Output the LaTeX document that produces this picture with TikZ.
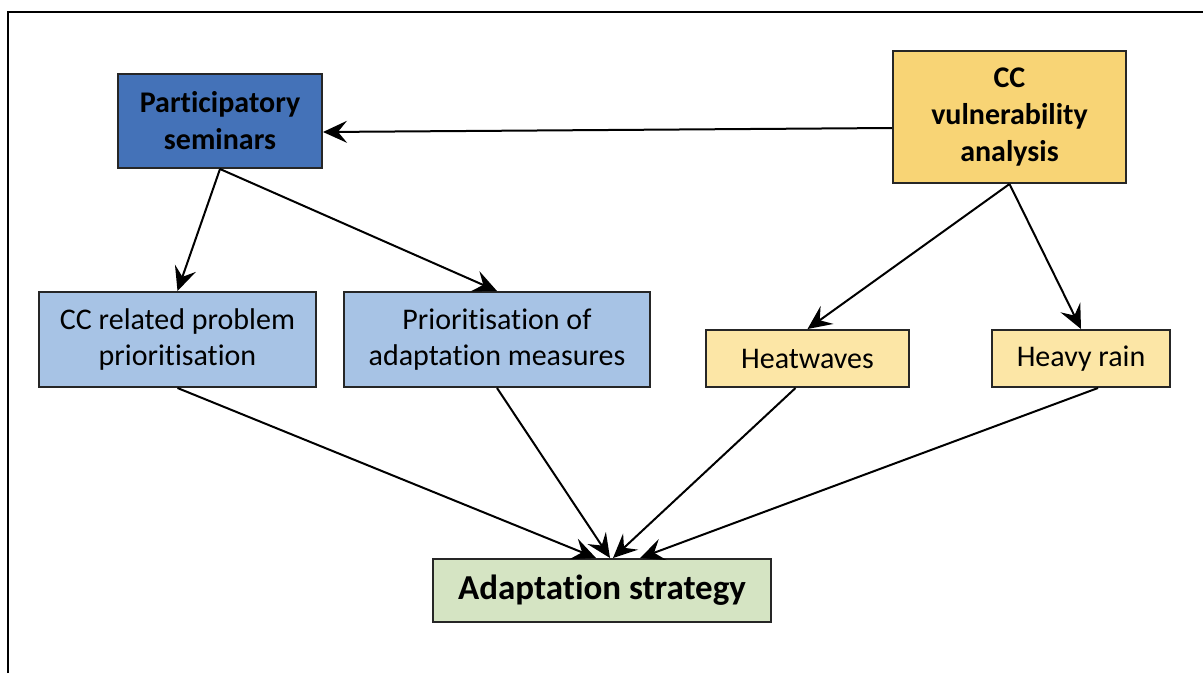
\documentclass[tikz,border=0pt]{standalone}
\usepackage{fontspec}
\setmainfont[Ligatures={NoCommon,NoContextual},RawFeature={-liga;-clig;-calt;-dlig}]{Carlito}
\usetikzlibrary{arrows.meta}
\definecolor{darkblue}{HTML}{4472B8}
\definecolor{lightblue}{HTML}{A7C3E5}
\definecolor{gold}{HTML}{F8D475}
\definecolor{lightgold}{HTML}{FCE6A6}
\definecolor{lightgreen}{HTML}{D5E4C3}
\tikzset{
  box/.style={draw=black!85, line width=2pt, inner sep=0pt, align=center,
    font=\fontsize{30}{36.6}\selectfont},
  boldbox/.style={box, font=\fontsize{30}{37}\selectfont\bfseries},
  conn/.style={line width=2pt, -{Stealth[length=24pt, width=22pt, inset=9pt]}},
  frame/.style={line width=2.2pt}
}
\begin{document}
\begin{tikzpicture}[x=1pt, y=-1pt]
\useasboundingbox (0,0) rectangle (1203,673);
\fill[white] (0,0) rectangle (1203,673);
\coordinate (fbl) at (8,673);
\coordinate (ftl) at (8,12);
\coordinate (ftr) at (1203,12);
\draw[frame] (fbl) -- (ftl) -- (ftr);

\node[boldbox, fill=darkblue, minimum width=204pt, minimum height=94pt] (ps) at (220,121) {Participatory\\seminars};
\node[boldbox, fill=gold, minimum width=233pt, minimum height=132pt] (cv) at (1009.5,117) {CC\\vulnerability\\analysis};
\node[box, fill=lightblue, minimum width=277pt, minimum height=95pt] (cp) at (177.5,339.5) {CC related problem\\prioritisation};
\node[box, fill=lightblue, minimum width=306pt, minimum height=95pt] (pa) at (497,339.5) {Prioritisation of\\adaptation measures};
\node[box, fill=lightgold, minimum width=203pt, minimum height=57pt] (hw) at (807.5,358.5) {Heatwaves};
\node[box, fill=lightgold, minimum width=178pt, minimum height=57pt] (hr) at (1081,358.5) {Heavy rain};
\node[box, fill=lightgreen, minimum width=338pt, minimum height=63pt, font=\fontsize{35}{42}\selectfont\bfseries] (as) at (602,590.5) {Adaptation strategy};

\draw[conn] ([yshift=-11pt]cv.west) -- ([yshift=-11pt]ps.east);
\draw[conn] (ps.south) -- (cp.north);
\draw[conn] (ps.south) -- (pa.north);
\draw[conn] (cv.south) -- (hw.north);
\draw[conn] (cv.south) -- (hr.north);
\draw[conn] (cp.south) -- ([xshift=-6pt]as.north);
\draw[conn] (pa.south) -- ([xshift=8pt]as.north);
\draw[conn] ([xshift=-12pt]hw.south) -- ([xshift=11pt]as.north);
\draw[conn] ([xshift=17pt]hr.south) -- ([xshift=38pt]as.north);
\end{tikzpicture}
\end{document}
